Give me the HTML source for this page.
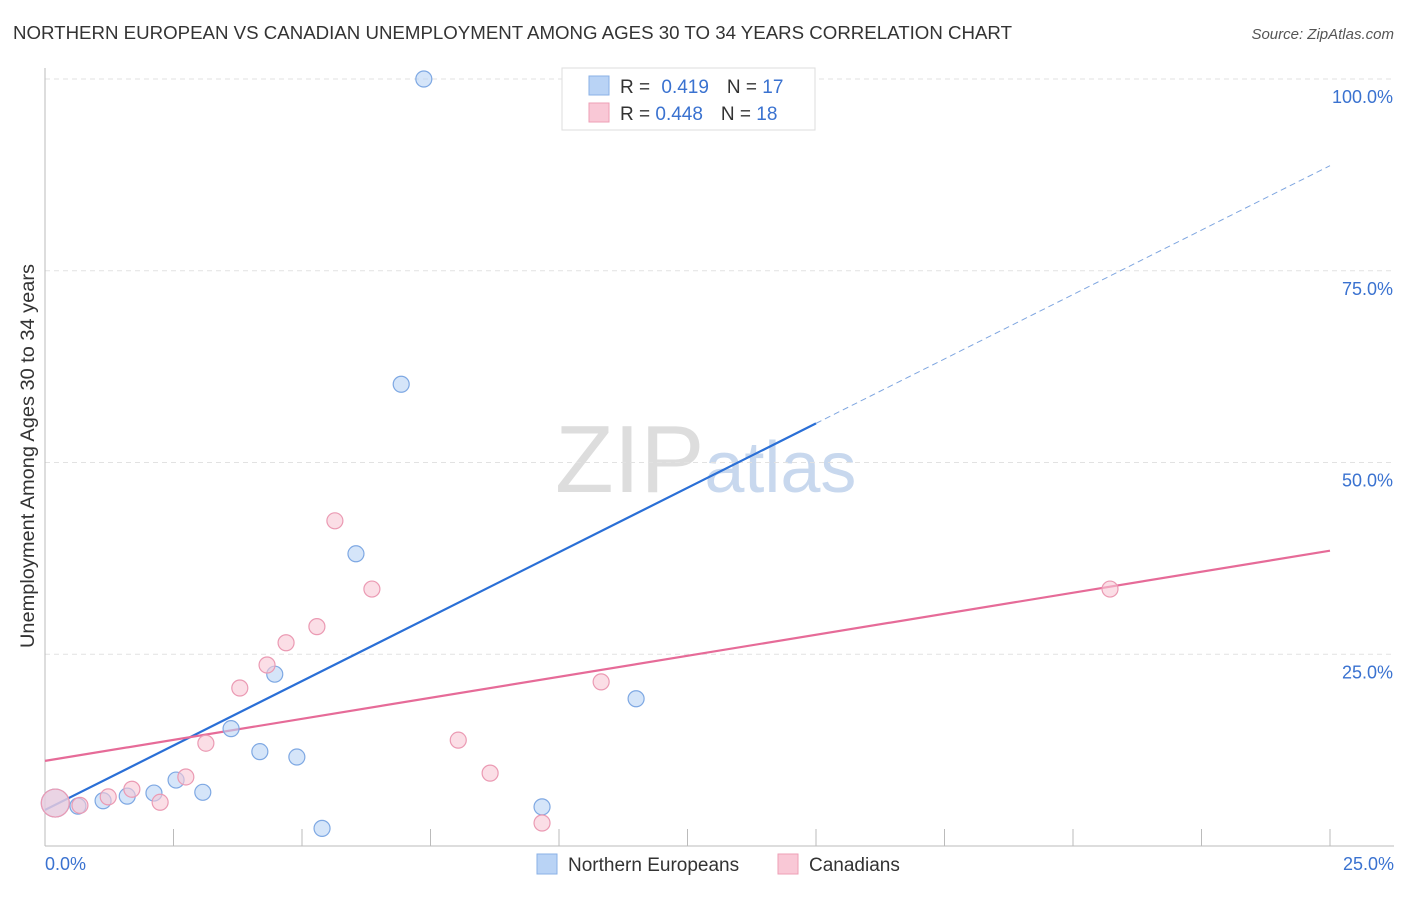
<!DOCTYPE html>
<html><head><meta charset="utf-8"><style>
body{margin:0;background:#fff;font-family:"Liberation Sans",sans-serif;}
svg text{font-family:"Liberation Sans",sans-serif;}
</style></head><body>
<svg id="chart" width="1406" height="892" viewBox="0 0 1406 892" xmlns="http://www.w3.org/2000/svg">
<text x="13" y="39" font-size="18" fill="#333" textLength="999" lengthAdjust="spacingAndGlyphs">NORTHERN EUROPEAN VS CANADIAN UNEMPLOYMENT AMONG AGES 30 TO 34 YEARS CORRELATION CHART</text>
<text x="1394" y="39" font-size="15" fill="#555" text-anchor="end" font-style="italic">Source: ZipAtlas.com</text>
<text x="555" y="492" font-size="96" fill="#ddd" font-family="Liberation Serif">ZIP<tspan fill="#c8d8ee" font-family="Liberation Sans" font-size="72">atlas</tspan></text>
<g id="grid"></g>
<g id="axes"></g>
<g id="lines"></g>
<g id="points"></g>
<text transform="translate(34,456) rotate(-90)" font-size="19" fill="#333" text-anchor="middle" textLength="384" lengthAdjust="spacingAndGlyphs">Unemployment Among Ages 30 to 34 years</text>
<g>
<rect x="562" y="68" width="253" height="62" fill="#fff" stroke="#ddd"/>
<rect x="589" y="76" width="20" height="19" fill="#b9d3f5" stroke="#8ab0e6"/>
<text x="620" y="93" font-size="19" fill="#333">R = <tspan fill="#3a72d0" dx="6">0.419</tspan><tspan dx="18" fill="#333">N = </tspan><tspan fill="#3a72d0">17</tspan></text>
<rect x="589" y="103" width="20" height="19" fill="#f9c8d6" stroke="#ee9fb6"/>
<text x="620" y="120" font-size="19" fill="#333">R = <tspan fill="#3a72d0">0.448</tspan><tspan dx="18" fill="#333">N = </tspan><tspan fill="#3a72d0">18</tspan></text>
</g>
<g>
<rect x="537" y="854" width="20" height="20" fill="#b9d3f5" stroke="#8ab0e6"/>
<text x="568" y="871" font-size="19" fill="#333">Northern Europeans</text>
<rect x="778" y="854" width="20" height="20" fill="#f9c8d6" stroke="#ee9fb6"/>
<text x="809" y="871" font-size="19" fill="#333">Canadians</text>
</g>
</svg>
<script>
const xTicks=[0,2.5,5,7.5,10,12.5,15,17.5,20,22.5,25];
const yTicks=[25,50,75,100];
const yTickLabels=["25.0%","50.0%","75.0%","100.0%"];
const xEndLabels=["0.0%","25.0%"];
const neX=[7.37,6.93,6.05,4.47,3.62,4.18,4.90,2.55,2.12,3.07,1.6,1.13,0.64,5.39,9.67,11.5,0.2];
const neY=[100,60.2,38.1,22.4,15.3,12.3,11.6,8.6,6.9,7.0,6.5,5.9,5.2,2.3,5.1,19.2,5.6];
const caX=[5.64,6.36,5.29,4.69,4.32,3.79,3.13,2.74,2.24,1.69,1.23,0.68,0.2,10.82,8.04,8.66,9.67,20.72];
const caY=[42.4,33.5,28.6,26.5,23.6,20.6,13.4,9.0,5.7,7.4,6.4,5.3,5.6,21.4,13.8,9.5,3.0,33.5];
const neLine=[4.7,3.36];
const caLine=[11.1,1.096];
const NS="http://www.w3.org/2000/svg";
const X=v=>45+v*(1285/25), Y=v=>846-v*7.67;
function mk(t,a,p){const e=document.createElementNS(NS,t);for(const k in a)e.setAttribute(k,a[k]);document.getElementById(p).appendChild(e);return e;}
yTicks.forEach((t,i)=>{
 const g=mk('line',{x1:45,x2:1394,y1:Y(t),y2:Y(t),stroke:'#e2e2e2','stroke-dasharray':'5,4'},'grid');
 
 
 const l=mk('text',{x:1393,y:Y(t)+24,'font-size':18,fill:'#3a72d0','text-anchor':'end'},'axes');
 l.textContent=yTickLabels[i];
 
 
});
const ax=mk('line',{x1:45,x2:45,y1:68,y2:846,stroke:'#bbb'},'axes');


const bx=mk('line',{x1:45,x2:1394,y1:846,y2:846,stroke:'#bbb'},'axes');


xTicks.forEach(t=>{const k=mk('line',{x1:X(t),x2:X(t),y1:846,y2:829,stroke:'#bbb'},'axes');
 
 });
[[0,'start',45],[25,'end',1394]].forEach((d,i)=>{const t=mk('text',{x:d[2],y:870,'font-size':18,fill:'#3a72d0','text-anchor':d[1]},'axes');t.textContent=xEndLabels[i];
 
 });
const f=(l,x)=>l[0]+l[1]*x;
let e=mk('line',{x1:X(0),y1:Y(f(neLine,0)),x2:X(15),y2:Y(f(neLine,15)),stroke:'#2a6fd6','stroke-width':2.2},'lines');


e=mk('line',{x1:X(15),y1:Y(f(neLine,15)),x2:X(25),y2:Y(f(neLine,25)),stroke:'#7fa6e0','stroke-width':1,'stroke-dasharray':'6,4'},'lines');


e=mk('line',{x1:X(0),y1:Y(f(caLine,0)),x2:X(25),y2:Y(f(caLine,25)),stroke:'#e66b98','stroke-width':2.2},'lines');


function pts(xs,ys,fill,stroke,name){xs.forEach((x,i)=>{const r=(x<0.3)?14:8;
 const c=mk('circle',{cx:X(x),cy:Y(ys[i]),r:r,fill:fill,'fill-opacity':0.6,stroke:stroke,'stroke-width':1.2},'points');
 
 });}
pts(neX,neY,'#b9d3f5','#7ea8e3','northern-europeans-point');
pts(caX,caY,'#f9c8d6','#eb9ab3','canadians-point');
</script>
</body></html>
